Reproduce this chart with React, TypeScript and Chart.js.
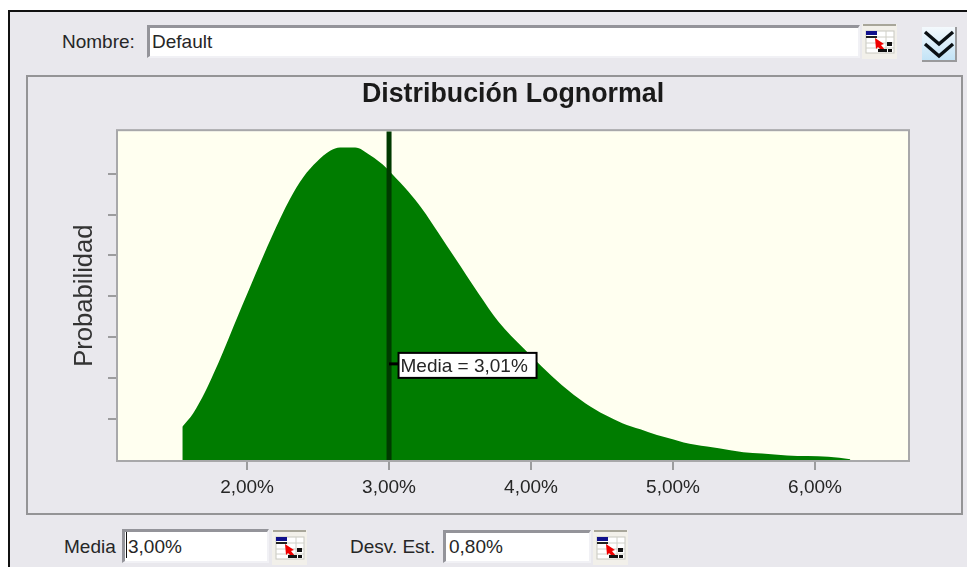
import React, { useEffect, useRef } from "react";
import { Chart, registerables } from "chart.js";

Chart.register(...registerables);

const chartTitle = "Distribución Lognormal";
const yTitle = "Probabilidad";
const curveX = [1.544, 1.622, 1.704, 1.763, 1.833, 1.903, 1.963, 2.056, 2.174, 2.303, 2.397, 2.491, 2.585, 2.655, 2.761, 2.867, 2.985, 3.02, 3.137, 3.231, 3.348, 3.466, 3.63, 3.771, 3.947, 4.077, 4.218, 4.382, 4.523, 4.643, 4.77, 4.887, 5.004, 5.075, 5.24, 5.404, 5.495, 5.627, 5.803, 6.094, 6.249];
const curveY = [0.81, 1.15, 1.66, 2.1, 2.66, 3.25, 3.75, 4.52, 5.46, 6.39, 6.92, 7.29, 7.56, 7.64, 7.64, 7.45, 7.13, 7.0, 6.56, 6.15, 5.55, 4.93, 4.07, 3.38, 2.73, 2.28, 1.83, 1.39, 1.1, 0.9, 0.75, 0.61, 0.5, 0.43, 0.33, 0.24, 0.19, 0.16, 0.11, 0.08, 0.02];
const xTicks = [2, 3, 4, 5, 6];
const yTicks = [1, 2, 3, 4, 5, 6, 7];
const xMin = 1.091;
const xMax = 6.655;
const yMax = 8.04;
const meanX = 3.0;
const meanLabelY = 2.35;
const meanLabel = "Media = 3,01%";

const FONT = '"Liberation Sans", Arial, sans-serif';
const BG = "#e9e8ed";
const GRAY = "#9c9c9e";
const TEXT = "#262626";
const UI_SIZE = 19;

const plotPlugin = {
  id: "plotFrame",
  beforeDatasetsDraw(chart: any) {
    const { ctx, chartArea: a } = chart;
    ctx.save();
    ctx.fillStyle = "#fffff0";
    ctx.fillRect(a.left, a.top, a.right - a.left, a.bottom - a.top);
    ctx.restore();
  },
  afterDatasetsDraw(chart: any) {
    const { ctx, chartArea: a, scales } = chart;
    ctx.save();
    ctx.strokeStyle = "#a8a8aa";
    ctx.lineWidth = 2;
    ctx.strokeRect(a.left - 1, a.top - 1, a.right - a.left + 2, a.bottom - a.top + 2);
    const px = scales.x.getPixelForValue(meanX);
    const py = scales.y.getPixelForValue(meanLabelY);
    ctx.strokeStyle = "#000";
    ctx.lineWidth = 3;
    ctx.beginPath();
    ctx.moveTo(px, py);
    ctx.lineTo(px + 9, py);
    ctx.stroke();
    const bx = px + 9.5;
    const by = py - 11;
    ctx.fillStyle = "#fff";
    ctx.fillRect(bx, by, 138, 25);
    ctx.lineWidth = 2;
    ctx.strokeRect(bx, by, 138, 25);
    ctx.fillStyle = TEXT;
    ctx.font = `${UI_SIZE}px ${FONT}`;
    ctx.textAlign = "left";
    ctx.textBaseline = "middle";
    ctx.fillText(meanLabel, bx + 2, by + 13.5);
    ctx.restore();
  },
};

function GridIcon({ left, top, w = 35, h = 35 }: { left: number; top: number; w?: number; h?: number }) {
  return (
    <svg style={{ position: "absolute", left, top }} width={w} height={h} viewBox="0 0 35 35">
      <rect x="0" y="0" width="35" height="35" fill="#f2f0ea" />
      <rect x="1" y="0" width="33" height="2" fill="#a8a69a" />
      <rect x="4" y="7" width="28" height="22" fill="#fff" stroke="#c8c8c0" />
      <path d="M4 13H32M4 19H32M4 24H32M24 7V29" stroke="#d0d0c8" fill="none" />
      <rect x="4" y="7" width="11" height="4" fill="#10108c" />
      <rect x="4" y="12" width="11" height="2" fill="#222" />
      <path d="M13 14 L22 20 L19 21 L23 26 L20 27 L16 23 L14 25 Z" fill="#f00000" />
      <rect x="25" y="18" width="5" height="4" fill="#111" />
      <rect x="16" y="25" width="9" height="3" fill="#111" />
      <rect x="26" y="25" width="4" height="3" fill="#111" />
    </svg>
  );
}

function Field({ left, top, width, height, text, textLeft = 2 }: { left: number; top: number; width: number; height: number; text: string; textLeft?: number }) {
  return (
    <div
      style={{
        position: "absolute", left, top, width, height, boxSizing: "border-box", background: "#fff",
        borderTop: "3px solid #94949a", borderLeft: "3px solid #94949a",
        borderBottom: "2px solid #f1f1f5", borderRight: "2px solid #f1f1f5",
        font: `${UI_SIZE}px ${FONT}`, color: TEXT, lineHeight: `${height - 5}px`, paddingLeft: textLeft, whiteSpace: "nowrap",
      }}
    >
      {text}
    </div>
  );
}

function Label({ left, top, text }: { left: number; top: number; text: string }) {
  return <div style={{ position: "absolute", left, top, font: `${UI_SIZE}px ${FONT}`, color: TEXT, whiteSpace: "nowrap" }}>{text}</div>;
}

export default function App() {
  const ref = useRef<HTMLCanvasElement>(null);
  useEffect(() => {
    const chart = new Chart(ref.current!, {
      type: "scatter",
      data: {
        datasets: [
          {
            data: curveX.map((x, i) => ({ x, y: curveY[i] })),
            showLine: true,
            borderWidth: 0,
            borderColor: "#007c00",
            backgroundColor: "#007c00",
            fill: "origin",
            pointRadius: 0,
            cubicInterpolationMode: "monotone",
            order: 2,
          },
          {
            data: [{ x: meanX, y: 0 }, { x: meanX, y: yMax }],
            showLine: true,
            borderWidth: 5,
            borderColor: "#003a00",
            pointRadius: 0,
            fill: false,
            order: 1,
          },
        ],
      },
      options: {
        animation: false,
        responsive: false,
        layout: { padding: { left: 70, right: 59, top: 79, bottom: 60 } },
        plugins: {
          legend: { display: false },
          tooltip: { enabled: false },
          title: {
            display: true,
            text: chartTitle,
            fullSize: false,
            color: "#1a1a1a",
            font: { family: FONT, size: 26.8, weight: "bold" },
            padding: { top: 0, bottom: 20 },
          },
        },
        scales: {
          x: {
            type: "linear",
            min: xMin,
            max: xMax,
            afterBuildTicks: (s: any) => { s.ticks = xTicks.map((value) => ({ value })); },
            afterFit: (s: any) => { s.height = 47; },
            grid: { drawOnChartArea: false, color: GRAY, lineWidth: 2, tickLength: 10 },
            border: { display: false },
            ticks: {
              autoSkip: false,
              maxRotation: 0,
              color: TEXT,
              padding: 6,
              font: { family: FONT, size: UI_SIZE },
              callback: (v: any) => Number(v).toFixed(2).replace(".", ",") + "%",
            },
          },
          y: {
            type: "linear",
            min: 0,
            max: yMax,
            afterBuildTicks: (s: any) => { s.ticks = yTicks.map((value) => ({ value })); },
            afterFit: (s: any) => { s.width = 48; },
            grid: { drawOnChartArea: false, color: GRAY, lineWidth: 2, tickLength: 10 },
            border: { display: false },
            ticks: { callback: () => "" },
            title: { display: true, text: yTitle, color: "#333", font: { family: FONT, size: 25.6 }, padding: 0 },
          },
        },
      },
      plugins: [plotPlugin],
    } as any);
    return () => chart.destroy();
  }, []);

  return (
    <div style={{ position: "fixed", left: 0, top: 0, width: 967, height: 567, overflow: "hidden", background: "#fff", filter: "blur(0.35px)" }}>
      <div style={{ position: "absolute", left: 8, top: 10, width: 959, height: 557, boxSizing: "border-box", background: BG, borderTop: "2px solid #111", borderLeft: "2px solid #111" }} />
      <div style={{ position: "absolute", left: 26, top: 75, width: 937, height: 440, boxSizing: "border-box", border: "2px solid #949496" }} />
      <Label left={62} top={31} text="Nombre:" />
      <Field left={147} top={25} width={713} height={33} text="Default" />
      <GridIcon left={862} top={24} />
      <svg style={{ position: "absolute", left: 922, top: 27 }} width={35} height={35} viewBox="0 0 35 35">
        <defs>
          <linearGradient id="btn" x1="0" y1="0" x2="0" y2="1">
            <stop offset="0" stopColor="#f4f9fd" />
            <stop offset="1" stopColor="#bfe2f6" />
          </linearGradient>
        </defs>
        <rect x="0" y="0" width="35" height="35" fill="url(#btn)" />
        <path d="M34 0V34H0" stroke="#9a9a9c" strokeWidth="2" fill="none" />
        <path d="M3 5L17 17L31 5M3 17L17 29L31 17" stroke="#0a1014" strokeWidth="3.4" fill="none" />
      </svg>
      <Label left={64} top={536} text="Media" />
      <Field left={122} top={529} width={147} height={34} text="3,00%" textLeft={3} />
      <div style={{ position: "absolute", left: 126, top: 532, width: 1, height: 26, background: "#111" }} />
      <GridIcon left={272} top={530} />
      <Label left={350} top={536} text="Desv. Est." />
      <Field left={443} top={530} width={148} height={33} text="0,80%" textLeft={3} />
      <GridIcon left={593} top={530} />
      <canvas ref={ref} width={967} height={567} style={{ position: "absolute", left: 0, top: 0, display: "block" }} />
    </div>
  );
}
